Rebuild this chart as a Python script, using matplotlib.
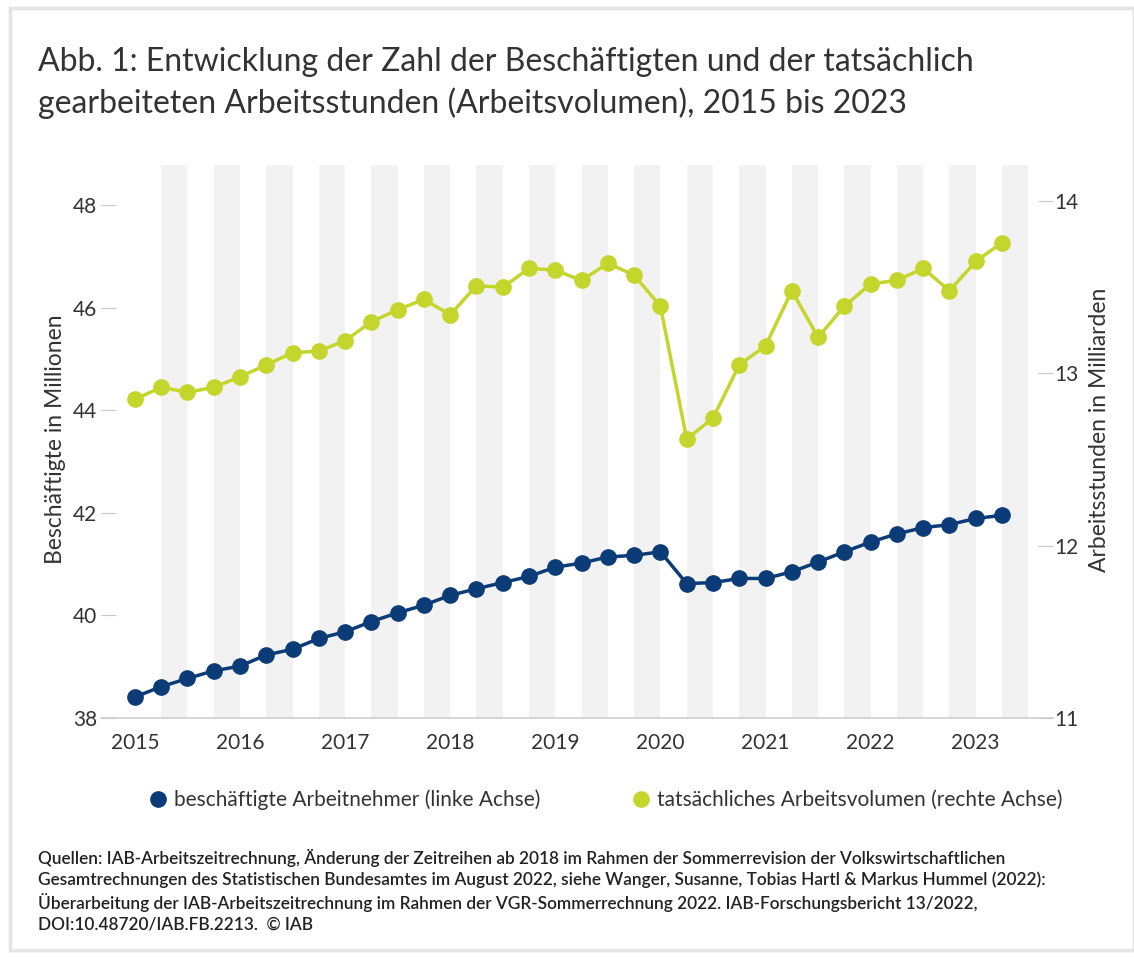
import matplotlib
matplotlib.use("Agg")
import matplotlib.pyplot as plt
from matplotlib.lines import Line2D
from matplotlib.patches import Rectangle

plt.rcParams['font.family'] = ['Lato', 'DejaVu Sans']

# ---- data (quarterly, 2015Q1 .. 2023Q2) ----
quarters = [f"{y}Q{q}" for y in range(2015, 2024) for q in range(1, 5)][:34]
employees = [38.41, 38.61, 38.77, 38.92, 39.01, 39.23, 39.34, 39.55, 39.68, 39.88,
             40.05, 40.20, 40.39, 40.52, 40.64, 40.76, 40.94, 41.02, 41.14, 41.17,
             41.24, 40.62, 40.64, 40.72, 40.72, 40.85, 41.04, 41.24, 41.43, 41.59,
             41.71, 41.77, 41.89, 41.95]
volume = [12.85, 12.92, 12.89, 12.92, 12.98, 13.05, 13.12, 13.13, 13.19, 13.30,
          13.37, 13.43, 13.34, 13.51, 13.50, 13.61, 13.60, 13.54, 13.64, 13.57,
          13.39, 12.62, 12.74, 13.05, 13.16, 13.48, 13.21, 13.39, 13.52, 13.54,
          13.61, 13.48, 13.65, 13.76]
year_labels = [str(y) for y in range(2015, 2024)]
left_ticks = [38, 40, 42, 44, 46, 48]
right_ticks = [11, 12, 13, 14]

BLUE = '#0c3c77'
GREEN = '#c4d52c'
TXT = '#333333'

W, H = 1134, 959
fig = plt.figure(figsize=(W / 100, H / 100), dpi=100)
fig.patch.set_facecolor('white')

# frame around picture
fig.add_artist(Rectangle((10 / W, 1 - 950 / H), (W - 10) / W, (950 - 8) / H,
                         transform=fig.transFigure, fill=False,
                         edgecolor='#e4e4e4', linewidth=2.5))

ax = fig.add_axes([101 / W, 1 - 718 / H, (1053 - 101) / W, (718 - 165) / H])
ax2 = ax.twinx()

x = list(range(len(quarters)))

# stripes
for i in range(1, len(quarters) + 1, 2):
    ax.axvspan(i, i + 1, color='#f2f2f2', lw=0, zorder=0)

ax.plot(x, employees, color=BLUE, lw=2.5, marker='o', markersize=11,
        zorder=3, label='beschäftigte Arbeitnehmer (linke Achse)')
ax2.plot(x, volume, color=GREEN, lw=2.5, marker='o', markersize=11,
         zorder=3, label='tatsächliches Arbeitsvolumen (rechte Achse)')

ax.set_xlim(-1.29, 34.94)
ax.set_ylim(38, 48.78)
ax2.set_ylim(11, 14.21)

ax.set_xticks(x[::4])
ax.set_xticklabels(year_labels)
ax.tick_params(axis='x', length=0, pad=11, labelsize=15, labelcolor=TXT)
ax.set_yticks(left_ticks)
ax.tick_params(axis='y', direction='in', length=11, color='#c8c8c8',
               labelsize=15, labelcolor=TXT, pad=3)
ax2.set_yticks(right_ticks)
ax2.tick_params(axis='y', direction='in', length=11, color='#c8c8c8',
                labelsize=15, labelcolor=TXT, pad=1)

for a in (ax, ax2):
    for s in ('top', 'left', 'right'):
        a.spines[s].set_visible(False)
    a.spines['bottom'].set_color('#cfcfcf')
    a.spines['bottom'].set_linewidth(1.2)
ax2.spines['bottom'].set_visible(False)

fig.text(55 / W, 1 - 439 / H, 'Beschäftigte in Millionen', rotation=90,
         ha='center', va='center', fontsize=16.5, color=TXT)
fig.text(1100 / W, 1 - 430 / H, 'Arbeitsstunden in Milliarden', rotation=90,
         ha='center', va='center', fontsize=16.5, color=TXT)

# title
fig.text(38 / W, 1 - 62 / H, 'Abb. 1: Entwicklung der Zahl der Beschäftigten und der tatsächlich',
         fontsize=23, color=TXT, ha='left', va='center')
fig.text(38 / W, 1 - 103 / H, 'gearbeiteten Arbeitsstunden (Arbeitsvolumen), 2015 bis 2023',
         fontsize=23, color=TXT, ha='left', va='center')

# legend
handles = [Line2D([], [], color=BLUE, marker='o', markersize=11, linestyle='none'),
           Line2D([], [], color=GREEN, marker='o', markersize=11, linestyle='none')]
labels = ['beschäftigte Arbeitnehmer (linke Achse)',
          'tatsächliches Arbeitsvolumen (rechte Achse)']
fig.legend(handles, labels, ncol=2, loc='center left',
           bbox_to_anchor=(128 / W, 1 - 800 / H), frameon=False,
           fontsize=15, labelcolor=TXT, handletextpad=0.2,
           columnspacing=4.3, handlelength=1.1)

foot = ["Quellen: IAB-Arbeitszeitrechnung, Änderung der Zeitreihen ab 2018 im Rahmen der Sommerrevision der Volkswirtschaftlichen",
        "Gesamtrechnungen des Statistischen Bundesamtes im August 2022, siehe Wanger, Susanne, Tobias Hartl & Markus Hummel (2022):",
        "Überarbeitung der IAB-Arbeitszeitrechnung im Rahmen der VGR-Sommerrechnung 2022. IAB-Forschungsbericht 13/2022,",
        "DOI:10.48720/IAB.FB.2213.  © IAB"]
for k, line in enumerate(foot):
    fig.text(38 / W, 1 - (858 + 22 * k) / H, line, fontsize=12.4, color='#222222',
             ha='left', va='center', weight='semibold')

fig.savefig('out.png', dpi=100)
